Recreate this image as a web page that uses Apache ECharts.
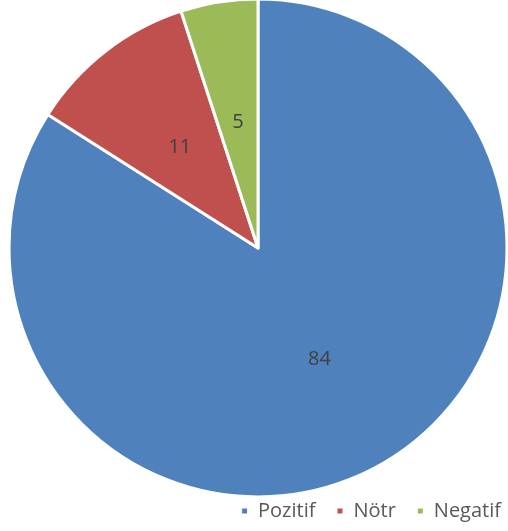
<!DOCTYPE html>
<html>
<head>
<meta charset="utf-8">
<script src="https://cdn.jsdelivr.net/npm/echarts@6/dist/echarts.min.js"></script>
<style>
  html, body { margin: 0; padding: 0; background: #fff; }
  #main { width: 508px; height: 531px; }
</style>
</head>
<body>
<div id="main"></div>
<script>
// dilimler
var categories = ['Pozitif', 'Nötr', 'Negatif'];
var values = [84, 11, 5];
var colors = ['#4F81BD', '#C0504D', '#9BBB59'];

var myChart = echarts.init(document.getElementById('main'));

var pieData = [];
for (var i = 0; i < categories.length; i++) {
  pieData.push({ name: categories[i], value: values[i] });
}

var option = {
  color: colors,
  animation: false,
  legend: {
    data: categories,
    right: 2,
    top: 496,
    icon: 'rect',
    itemWidth: 7,
    itemHeight: 7,
    itemGap: 20,
    textStyle: {
      color: '#595959',
      fontSize: 20,
      fontFamily: 'Open Sans',
      padding: [0, 0, 0, 5]
    }
  },
  series: [{
    type: 'pie',
    center: [258, 248],
    radius: [0, 249],
    startAngle: 90,
    clockwise: true,
    data: pieData,
    itemStyle: {
      borderColor: '#fff',
      borderWidth: 3
    },
    label: {
      position: 'inner',
      formatter: '{c}',
      color: '#404040',
      fontSize: 20,
      fontFamily: 'Open Sans'
    },
    labelLine: { show: false },
    emphasis: { scale: false }
  }]
};

myChart.setOption(option);
</script>
</body>
</html>
